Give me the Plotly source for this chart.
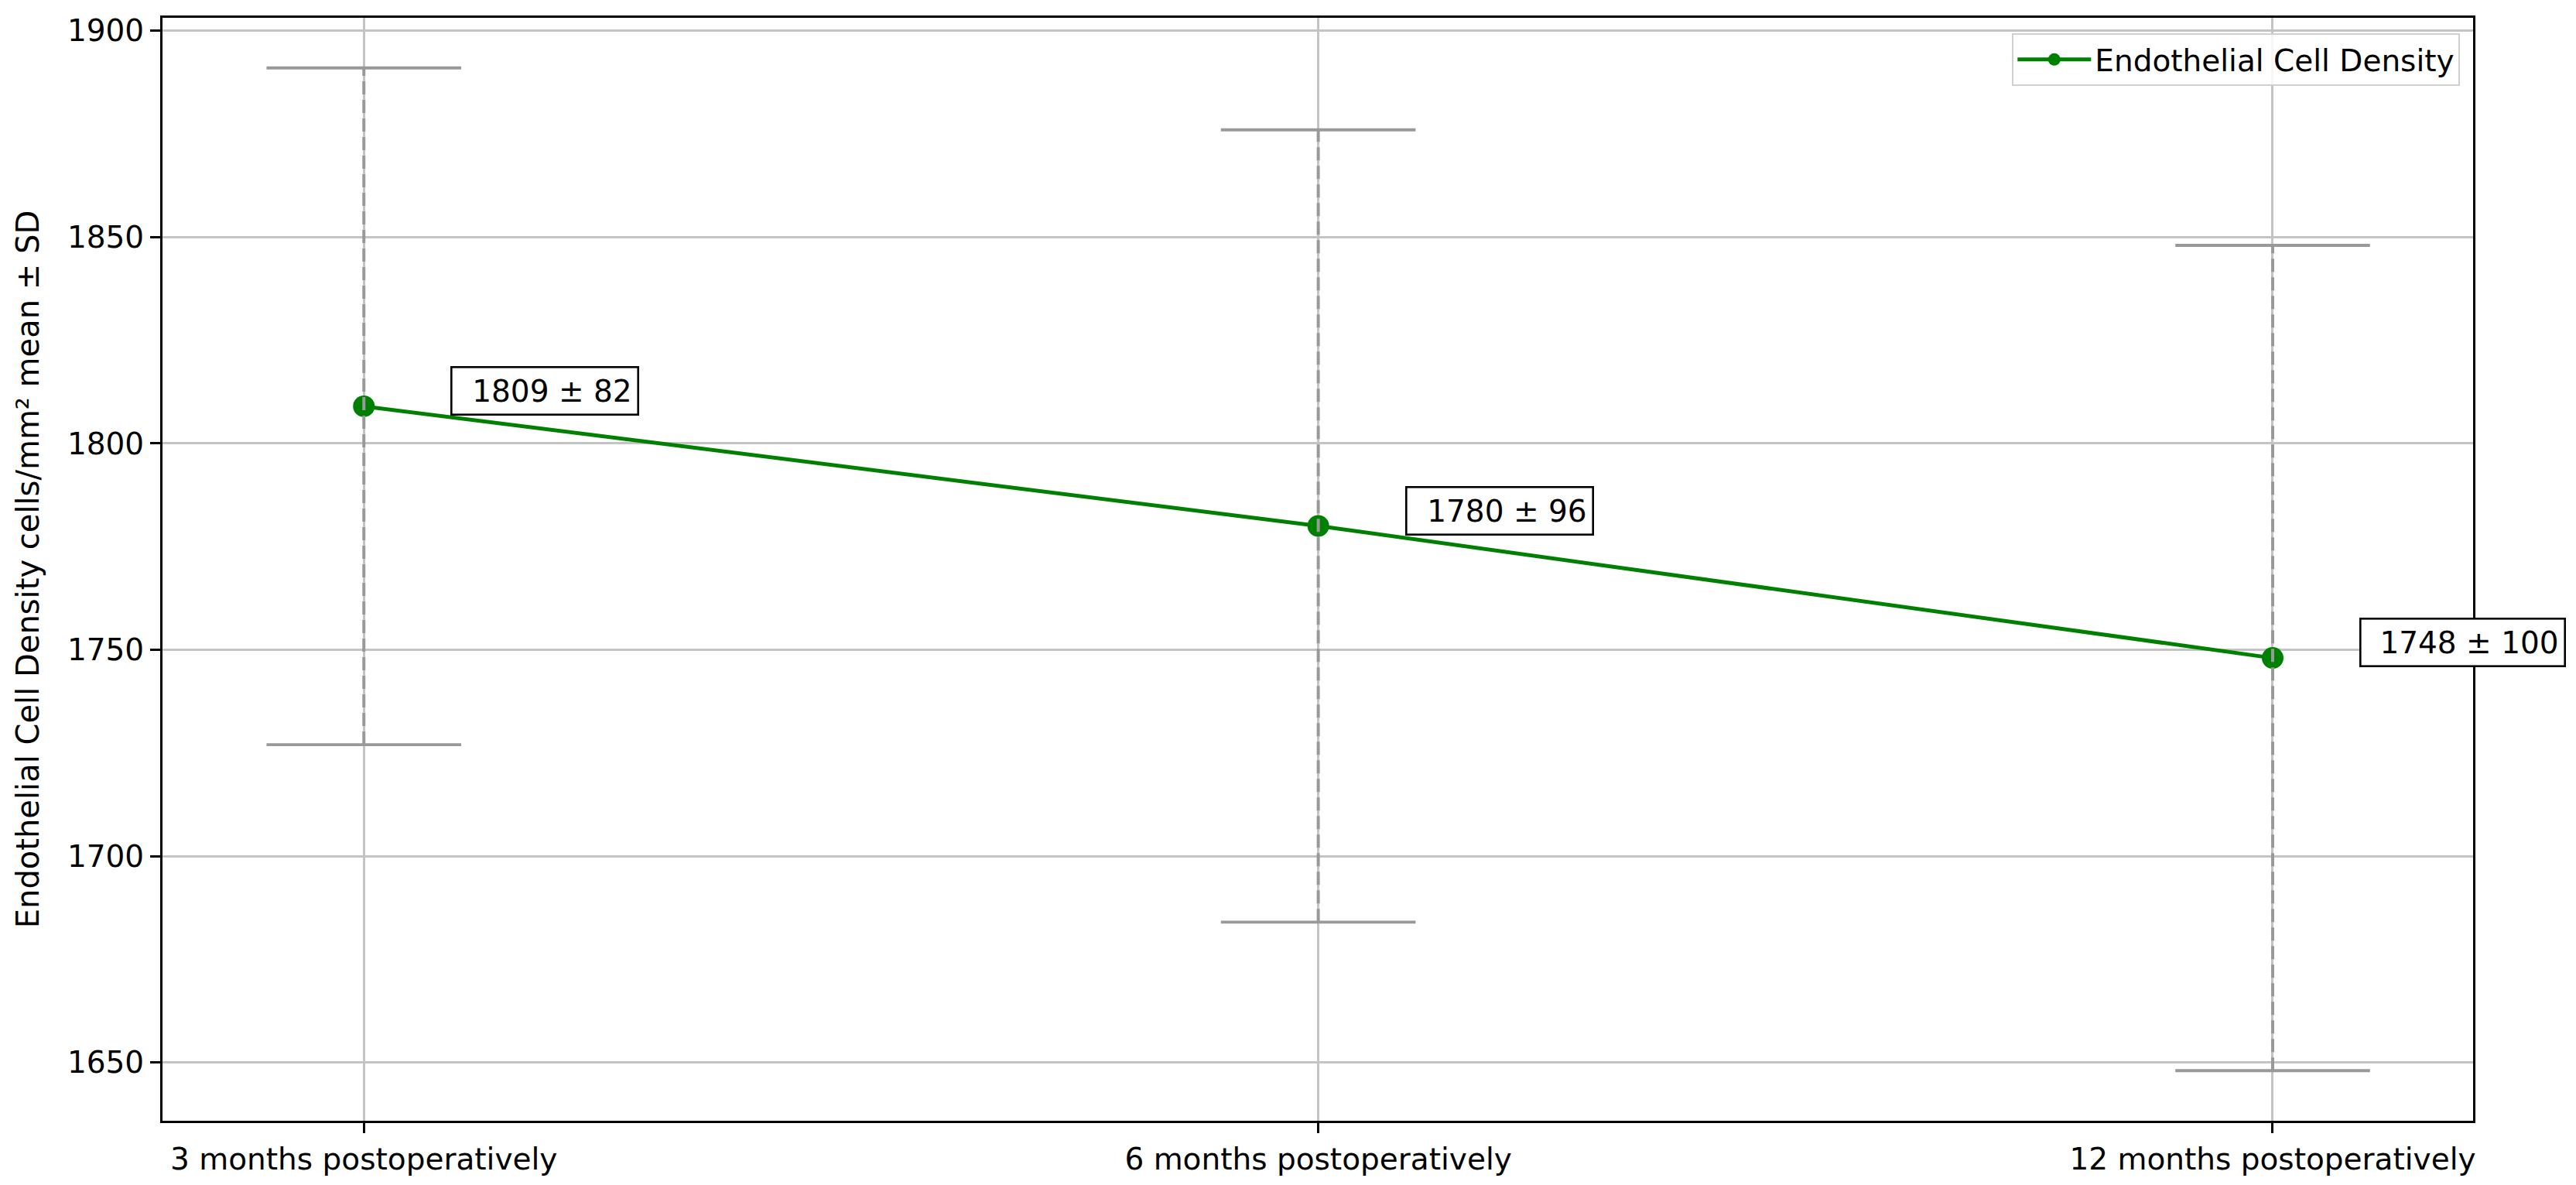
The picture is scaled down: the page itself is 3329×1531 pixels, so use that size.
import plotly.graph_objects as go

# ---- data ----
timepoints = ["3 months postoperatively", "6 months postoperatively", "12 months postoperatively"]
x_pos = [0, 1, 2]
ecd_mean = [1809, 1780, 1748]
ecd_sd = [82, 96, 100]
series_name = "Endothelial Cell Density"
y_title = "Endothelial Cell Density cells/mm² mean ± SD"
y_ticks = [1650, 1700, 1750, 1800, 1850, 1900]

# ---- style ----
FONT = "DejaVu Sans"
FS = 39
GREEN = "#008000"
ERR = "#999999"
CAP_HALF = 0.102  # cap half-width in x data units

err_x, err_y = [], []
cap_x, cap_y = [], []
for x, m, s in zip(x_pos, ecd_mean, ecd_sd):
    err_x += [x, x, None]
    err_y += [m - s, m + s, None]
    for v in (m - s, m + s):
        cap_x += [x - CAP_HALF, x + CAP_HALF, None]
        cap_y += [v, v, None]

fig = go.Figure()
fig.add_trace(go.Scatter(
    x=x_pos, y=ecd_mean, mode="lines+markers", name=series_name,
    line=dict(color=GREEN, width=5),
    marker=dict(color=GREEN, size=28),
    showlegend=True,
))
fig.add_trace(go.Scatter(
    x=err_x, y=err_y, mode="lines", showlegend=False, hoverinfo="skip",
    line=dict(color=ERR, width=4, dash="17px,7px"),
))
fig.add_trace(go.Scatter(
    x=cap_x, y=cap_y, mode="lines", showlegend=False, hoverinfo="skip",
    line=dict(color=ERR, width=3.8),
))

annotations = []
for x, m, s in zip(x_pos, ecd_mean, ecd_sd):
    txt = f"{m} ± {s}"
    annotations.append(dict(
        x=x, y=m, xref="x", yref="y", text=txt, showarrow=False,
        xanchor="left", yanchor="middle", xshift=112, yshift=20,
        font=dict(family=FONT, size=FS, color="black"),
        bgcolor="white", bordercolor="black", borderwidth=2.6, borderpad=7,
        width=23 * len(txt) + 18, height=45, align="right", valign="middle",
    ))

fig.update_layout(
    width=3329, height=1531,
    margin=dict(l=202, r=141, t=15, b=91),
    paper_bgcolor="white", plot_bgcolor="white",
    font=dict(family=FONT, size=FS, color="black"),
    showlegend=True,
    legend=dict(
        x=0.9944, y=0.986, xanchor="right", yanchor="top",
        bgcolor="rgba(255,255,255,0.85)", bordercolor="#d0d0d0", borderwidth=2,
        font=dict(family=FONT, size=FS, color="black"),
        itemwidth=95,
    ),
    annotations=annotations,
)
fig.update_xaxes(
    range=[-0.211, 2.21], tickmode="array", tickvals=x_pos, ticktext=timepoints,
    showgrid=True, gridcolor="#c4c4c4", gridwidth=2.5, zeroline=False,
    showline=True, linecolor="black", linewidth=3, mirror=True,
    ticks="outside", ticklen=13, tickwidth=3, tickcolor="black",
    tickfont=dict(family=FONT, size=FS, color="black"),
)
fig.update_yaxes(
    range=[1635.85, 1903.15], tickmode="array", tickvals=y_ticks,
    showgrid=True, gridcolor="#c4c4c4", gridwidth=2.5, zeroline=False,
    showline=True, linecolor="black", linewidth=3, mirror=True,
    ticks="outside", ticklen=13, tickwidth=3, tickcolor="black",
    tickfont=dict(family=FONT, size=FS, color="black"),
    title=dict(text=y_title, font=dict(family=FONT, size=40, color="black"), standoff=24),
    automargin=False,
)

fig.write_html("out.html")
